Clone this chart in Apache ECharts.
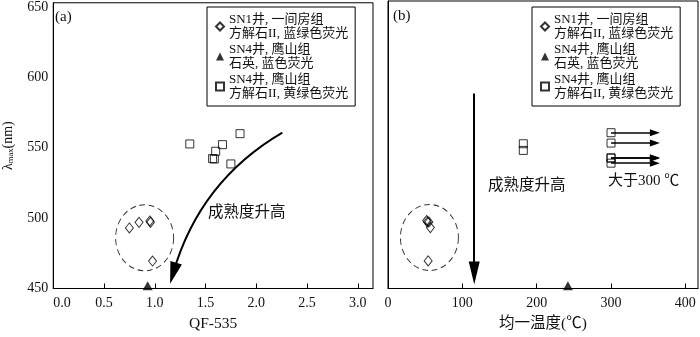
<!DOCTYPE html>
<html>
<head>
<meta charset="utf-8">
<script src="https://cdn.jsdelivr.net/npm/echarts@6/dist/echarts.min.js"></script>
<style>
  html, body { margin: 0; padding: 0; background: #fff; }
  #chart { width: 700px; height: 337px; }
</style>
</head>
<body>
<div id="chart"></div>
<script>
// series names (legend text)
const nameSN1 = 'SN1井, 一间房组\n方解石II, 蓝绿色荧光';
const nameQtz = 'SN4井, 鹰山组\n石英, 蓝色荧光';
const nameCal = 'SN4井, 鹰山组\n方解石II, 黄绿色荧光';

// SN1 calcite II (diamonds)
const qfSN1 = [0.75, 0.845, 0.952, 0.958, 0.978];
const lamSN1 = [493, 497, 498, 497, 469.5];
const thSN1 = [57, 53, 52, 55, 54];

// SN4 quartz (triangle)
const qfQtz = [0.93];
const lamQtz = [452];
const thQtz = [242];

// SN4 calcite II (squares)
const qfCal = [1.345, 1.84, 1.667, 1.60, 1.57, 1.587, 1.75];
const lamCal = [552.7, 560, 552.2, 547.5, 542.3, 542, 538.5];
const thCal = [300, 300, 182, 182, 300, 300, 300];

// annotations (data coords)
const ellipseA = [0.90, 486];
const ellipseB = [55.7, 486];
const curveA = [[2.257, 560.7], [1.181, 460.8]];
const arrowB = [[116, 587.6], [116, 461]];
const hotEnd = 359; // arrows for Th > 300

const serif = "'Liberation Serif', 'Times New Roman', 'Noto Sans CJK SC', serif";

function pairs(xs, ys) {
  return xs.map(function (x, i) { return [x, ys[i]]; });
}

const hollow = { color: 'rgba(255,255,255,0)', borderColor: '#000', borderWidth: 1 };

var chart = echarts.init(document.getElementById('chart'));

function legendAt(left) {
  return {
    left: left, top: 7,
    orient: 'vertical',
    data: [nameSN1, nameQtz, nameCal],
    backgroundColor: '#fff',
    borderColor: '#000', borderWidth: 1,
    padding: [5, 7, 5, 8],
    itemGap: 1,
    itemWidth: 8, itemHeight: 8,
    selectedMode: false,
    textStyle: { fontFamily: serif, fontSize: 13, lineHeight: 14.5, color: '#111' }
  };
}

function xAxisCfg(idx, max, interval, name, alignMin) {
  return {
    gridIndex: idx, type: 'value', min: 0, max: max, interval: interval,
    name: name, nameLocation: 'middle', nameGap: 28,
    nameTextStyle: { fontFamily: serif, fontSize: 15.5, color: '#111' },
    axisLine: { show: true, lineStyle: { color: '#000', width: 1 } },
    axisTick: { show: true, inside: true, length: 5, lineStyle: { color: '#000' } },
    axisLabel: {
      fontFamily: serif, fontSize: 14, color: '#111', margin: 8,
      showMaxLabel: false, alignMinLabel: alignMin,
      formatter: function (v) { return interval < 1 ? v.toFixed(1) : String(v); }
    },
    splitLine: { show: false }
  };
}

function yAxisCfg(idx, showLabels) {
  return {
    gridIndex: idx, type: 'value', min: 450, max: 653, interval: 50,
    name: showLabels ? '{a|λ}{b|max}{a|(nm)}' : '',
    nameLocation: 'middle', nameGap: 38, nameRotate: 90,
    nameTextStyle: {
      rich: {
        a: { fontFamily: serif, fontSize: 14, color: '#111' },
        b: { fontFamily: serif, fontSize: 8.5, color: '#111', padding: [6, 0, 0, 0] }
      }
    },
    axisLine: { show: true, lineStyle: { color: '#000', width: 1 } },
    axisTick: { show: false },
    axisLabel: { show: showLabels, fontFamily: serif, fontSize: 14, color: '#111', margin: 5, showMaxLabel: false },
    splitLine: { show: false }
  };
}

var option = {
  animation: false,
  backgroundColor: '#fff',
  grid: [
    { left: 48, right: 327, top: 1, bottom: 48, show: true, borderColor: '#000', borderWidth: 1 },
    { left: 388, right: 2, top: 1, bottom: 48, show: true, borderColor: '#000', borderWidth: 1 }
  ],
  legend: [legendAt(207), legendAt(532)],
  xAxis: [
    xAxisCfg(0, 3.15, 0.5, 'QF-535', 'left'),
    xAxisCfg(1, 417, 100, '均一温度(℃)', 'center')
  ],
  yAxis: [yAxisCfg(0, true), yAxisCfg(1, false)],
  graphic: [
    { type: 'text', x: 55, y: 17, style: { text: '(a)', font: '15px ' + serif, fill: '#111', verticalAlign: 'middle' } },
    { type: 'text', x: 393, y: 16, style: { text: '(b)', font: '15px ' + serif, fill: '#111', verticalAlign: 'middle' } },
    { type: 'text', x: 208, y: 213, style: { text: '成熟度升高', font: '15.5px ' + serif, fill: '#111', verticalAlign: 'middle' } },
    { type: 'text', x: 488, y: 186, style: { text: '成熟度升高', font: '15.5px ' + serif, fill: '#111', verticalAlign: 'middle' } },
    { type: 'text', x: 608, y: 181, style: { text: '大于300 ℃', font: '15px ' + serif, fill: '#111', verticalAlign: 'middle' } }
  ],
  series: [
    // dashed ellipses
    { type: 'scatter', xAxisIndex: 0, yAxisIndex: 0, data: [ellipseA], symbol: 'circle', symbolSize: [58, 66], silent: true,
      itemStyle: { color: 'rgba(255,255,255,0)', borderColor: '#000', borderWidth: 1, borderType: [6, 4] } },
    { type: 'scatter', xAxisIndex: 1, yAxisIndex: 1, data: [ellipseB], symbol: 'circle', symbolSize: [58, 66], silent: true,
      itemStyle: { color: 'rgba(255,255,255,0)', borderColor: '#000', borderWidth: 1, borderType: [6, 4] } },
    // panel a
    { name: nameSN1, type: 'scatter', xAxisIndex: 0, yAxisIndex: 0, symbol: 'diamond', symbolSize: [8, 10],
      itemStyle: hollow, data: pairs(qfSN1, lamSN1) },
    { name: nameQtz, type: 'scatter', xAxisIndex: 0, yAxisIndex: 0, symbol: 'triangle', symbolSize: [10, 9],
      itemStyle: { color: '#000' }, data: pairs(qfQtz, lamQtz) },
    { name: nameCal, type: 'scatter', xAxisIndex: 0, yAxisIndex: 0, symbol: 'rect', symbolSize: 8,
      itemStyle: hollow, data: pairs(qfCal, lamCal) },
    // panel b
    { name: nameSN1, type: 'scatter', xAxisIndex: 1, yAxisIndex: 1, symbol: 'diamond', symbolSize: [8, 10],
      itemStyle: hollow, data: pairs(thSN1, lamSN1) },
    { name: nameQtz, type: 'scatter', xAxisIndex: 1, yAxisIndex: 1, symbol: 'triangle', symbolSize: [10, 9],
      itemStyle: { color: '#000' }, data: pairs(thQtz, lamQtz) },
    { name: nameCal, type: 'scatter', xAxisIndex: 1, yAxisIndex: 1, symbol: 'rect', symbolSize: 8,
      itemStyle: hollow, data: pairs(thCal, lamCal) },
    // arrows
    { type: 'lines', coordinateSystem: 'cartesian2d', xAxisIndex: 0, yAxisIndex: 0, silent: true,
      symbol: ['none', 'triangle'], symbolSize: [[1, 1], [12, 22]],
      lineStyle: { color: '#000', width: 2, opacity: 1, curveness: -0.2 },
      data: [{ coords: curveA }] },
    { type: 'lines', coordinateSystem: 'cartesian2d', xAxisIndex: 1, yAxisIndex: 1, silent: true,
      symbol: ['none', 'triangle'], symbolSize: [[1, 1], [11, 23]],
      lineStyle: { color: '#000', width: 2, opacity: 1 },
      data: [{ coords: arrowB }] },
    { type: 'lines', coordinateSystem: 'cartesian2d', xAxisIndex: 1, yAxisIndex: 1, silent: true,
      symbol: ['none', 'triangle'], symbolSize: [[1, 1], [7, 10]],
      lineStyle: { color: '#000', width: 1.5, opacity: 1 },
      data: thCal.map(function (t, i) { return t >= 300 ? { coords: [[t, lamCal[i]], [hotEnd, lamCal[i]]] } : null; })
        .filter(function (d) { return d; }) }
  ]
};

chart.setOption(option);
window.addEventListener('resize', function () { chart.resize(); });
</script>
</body>
</html>
